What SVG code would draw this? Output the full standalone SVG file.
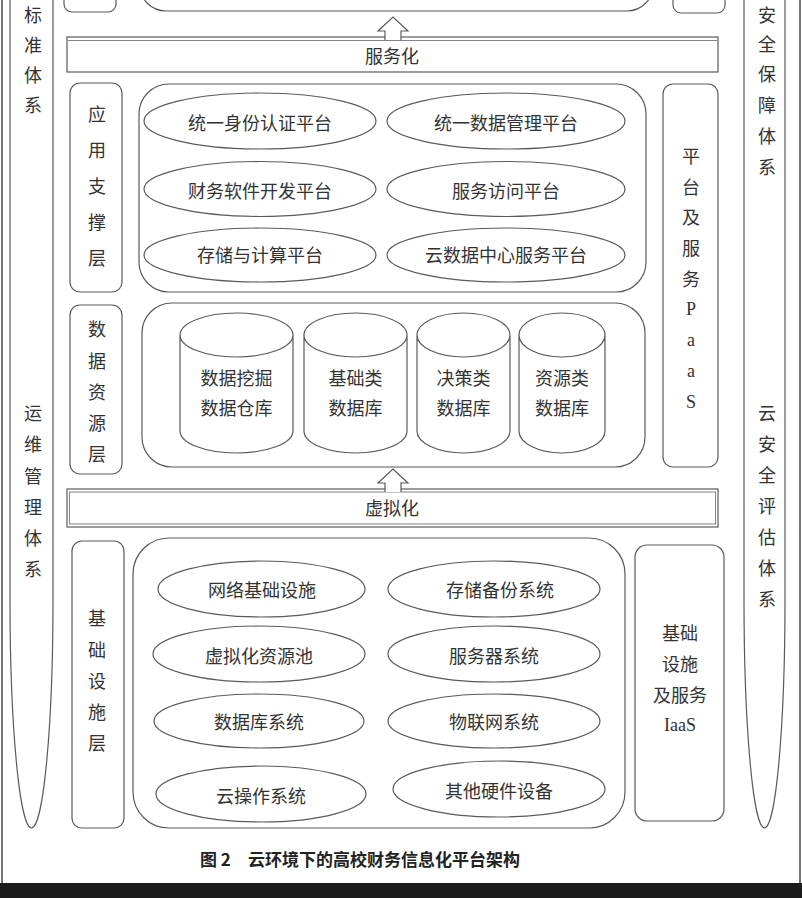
<svg xmlns="http://www.w3.org/2000/svg" width="802" height="898" viewBox="0 0 802 898">
<style>
.s{fill:none;stroke:#5a5a5a;stroke-width:1.2}
.w{fill:#fff;stroke:#5a5a5a;stroke-width:1.2}
.t{font-family:"Noto Sans CJK SC","Noto Sans CJK JP",sans-serif;font-size:18px;fill:#333;text-anchor:middle;dominant-baseline:central}
.l{font-family:"Liberation Serif","Noto Sans CJK SC",serif;font-size:18px;fill:#333;text-anchor:middle;dominant-baseline:central}
.cap{font-family:"Noto Sans CJK SC","Noto Sans CJK JP",sans-serif;font-size:17px;font-weight:bold;fill:#222;dominant-baseline:central}
</style>
<rect x="0" y="0" width="802" height="898" fill="#fff"/>
<line x1="2" y1="0" x2="2" y2="883" stroke="#444" stroke-width="1.5"/>
<line x1="800" y1="0" x2="800" y2="883" stroke="#444" stroke-width="1.5"/>
<rect x="0" y="883" width="802" height="15" fill="#1b1b1b"/>

<g id="col-left">
<path class="s" d="M10,-5 V600 A21.5,228 0 0 0 53,600 V-5"/>
<text class="t"><tspan x="33" y="14">标</tspan><tspan x="33" y="44">准</tspan><tspan x="33" y="74">体</tspan><tspan x="33" y="104">系</tspan></text>
<text class="t"><tspan x="33" y="412">运</tspan><tspan x="33" y="443">维</tspan><tspan x="33" y="475">管</tspan><tspan x="33" y="506">理</tspan><tspan x="33" y="537">体</tspan><tspan x="33" y="568">系</tspan></text>
</g>
<g id="col-right">
<path class="s" d="M744,-5 V600 A20.5,228 0 0 0 785,600 V-5"/>
<text class="t"><tspan x="767" y="14">安</tspan><tspan x="767" y="43">全</tspan><tspan x="767" y="73">保</tspan><tspan x="767" y="104">障</tspan><tspan x="767" y="135">体</tspan><tspan x="767" y="166">系</tspan></text>
<text class="t"><tspan x="767" y="412">云</tspan><tspan x="767" y="443">安</tspan><tspan x="767" y="474">全</tspan><tspan x="767" y="505">评</tspan><tspan x="767" y="536">估</tspan><tspan x="767" y="567">体</tspan><tspan x="767" y="598">系</tspan></text>
</g>

<g id="top-partial">
<rect class="s" x="64" y="-30" width="52" height="42" rx="8"/>
<rect class="s" x="140" y="-40" width="513" height="51" rx="26"/>
<rect class="s" x="673" y="-30" width="52" height="43" rx="8"/>
</g>

<g id="band-service">
<rect class="s" x="67" y="37" width="651" height="35"/>
<line x1="68" y1="40.5" x2="717" y2="40.5" stroke="#777" stroke-width="0.9"/>
<text class="t" x="392" y="55">服务化</text>
</g>

<g id="layer-app-label">
<rect class="s" x="70" y="83" width="52" height="209" rx="10"/>
<text class="t"><tspan x="97" y="113">应</tspan><tspan x="97" y="149">用</tspan><tspan x="97" y="185">支</tspan><tspan x="97" y="221">撑</tspan><tspan x="97" y="257">层</tspan></text>
</g>
<g id="layer-app">
<rect class="s" x="139" y="84" width="507" height="208" rx="30"/>
</g>
<g id="n-auth"><ellipse class="s" cx="260" cy="121" rx="116" ry="28"/><text class="t" x="260" y="122">统一身份认证平台</text></g>
<g id="n-datamgmt"><ellipse class="s" cx="506" cy="121" rx="119" ry="28"/><text class="t" x="506" y="122">统一数据管理平台</text></g>
<g id="n-dev"><ellipse class="s" cx="260" cy="189" rx="116" ry="27.5"/><text class="t" x="260" y="190">财务软件开发平台</text></g>
<g id="n-access"><ellipse class="s" cx="506" cy="189" rx="119" ry="27.5"/><text class="t" x="506" y="190">服务访问平台</text></g>
<g id="n-storage"><ellipse class="s" cx="260" cy="255" rx="116" ry="27"/><text class="t" x="260" y="254">存储与计算平台</text></g>
<g id="n-dc"><ellipse class="s" cx="506" cy="255" rx="119" ry="27"/><text class="t" x="506" y="254">云数据中心服务平台</text></g>

<g id="paas">
<rect class="s" x="663" y="84" width="55" height="383" rx="10"/>
<text class="t"><tspan x="691" y="155">平</tspan><tspan x="691" y="186">台</tspan><tspan x="691" y="216">及</tspan><tspan x="691" y="247">服</tspan><tspan x="691" y="278">务</tspan></text>
<text class="l"><tspan x="691" y="309">P</tspan><tspan x="691" y="340">a</tspan><tspan x="691" y="371">a</tspan><tspan x="691" y="402">S</tspan></text>
</g>

<g id="layer-data-label">
<rect class="s" x="70" y="305" width="52" height="169" rx="10"/>
<text class="t"><tspan x="97" y="328">数</tspan><tspan x="97" y="360">据</tspan><tspan x="97" y="391">资</tspan><tspan x="97" y="422">源</tspan><tspan x="97" y="453">层</tspan></text>
</g>
<g id="layer-data">
<rect class="s" x="142" y="303" width="503" height="164" rx="30"/>
</g>
<g id="db-mining">
<path class="s" d="M180,335 A56.5,22 0 0 1 293,335 V431 A56.5,22 0 0 1 180,431 Z M180,335 A56.5,22 0 0 0 293,335"/>
<text class="t" x="236.5" y="377">数据挖掘</text><text class="t" x="236.5" y="407">数据仓库</text>
</g>
<g id="db-basic">
<path class="s" d="M304,335 A51.5,22 0 0 1 407,335 V431 A51.5,22 0 0 1 304,431 Z M304,335 A51.5,22 0 0 0 407,335"/>
<text class="t" x="355.5" y="377">基础类</text><text class="t" x="355.5" y="407">数据库</text>
</g>
<g id="db-decision">
<path class="s" d="M417,335 A46.5,22 0 0 1 510,335 V431 A46.5,22 0 0 1 417,431 Z M417,335 A46.5,22 0 0 0 510,335"/>
<text class="t" x="463.5" y="377">决策类</text><text class="t" x="463.5" y="407">数据库</text>
</g>
<g id="db-resource">
<path class="s" d="M519,335 A43,22 0 0 1 605,335 V431 A43,22 0 0 1 519,431 Z M519,335 A43,22 0 0 0 605,335"/>
<text class="t" x="562" y="377">资源类</text><text class="t" x="562" y="407">数据库</text>
</g>

<g id="band-virtual">
<rect class="s" x="67" y="489" width="651" height="38"/>
<rect x="69.5" y="492" width="646" height="32" fill="none" stroke="#777" stroke-width="0.9"/>
<text class="t" x="392" y="507">虚拟化</text>
</g>

<g id="layer-infra-label">
<rect class="s" x="72" y="541" width="52" height="287" rx="10"/>
<text class="t"><tspan x="97" y="617">基</tspan><tspan x="97" y="649">础</tspan><tspan x="97" y="680">设</tspan><tspan x="97" y="711">施</tspan><tspan x="97" y="742">层</tspan></text>
</g>
<g id="layer-infra">
<rect class="s" x="133" y="538" width="492" height="290" rx="36"/>
</g>
<g id="n-net"><ellipse class="s" cx="261.5" cy="589" rx="103.5" ry="28"/><text class="t" x="262" y="589">网络基础设施</text></g>
<g id="n-backup"><ellipse class="s" cx="494" cy="589" rx="106" ry="28"/><text class="t" x="500" y="589">存储备份系统</text></g>
<g id="n-pool"><ellipse class="s" cx="259" cy="654" rx="106" ry="28"/><text class="t" x="259" y="655">虚拟化资源池</text></g>
<g id="n-server"><ellipse class="s" cx="494" cy="654" rx="106" ry="28"/><text class="t" x="494" y="655">服务器系统</text></g>
<g id="n-db"><ellipse class="s" cx="259" cy="721" rx="105" ry="27"/><text class="t" x="259" y="721">数据库系统</text></g>
<g id="n-iot"><ellipse class="s" cx="494" cy="721" rx="106" ry="27"/><text class="t" x="494" y="721">物联网系统</text></g>
<g id="n-os"><ellipse class="s" cx="261" cy="794" rx="105" ry="28"/><text class="t" x="261" y="795">云操作系统</text></g>
<g id="n-hw"><ellipse class="s" cx="499" cy="789" rx="106" ry="28"/><text class="t" x="499" y="790">其他硬件设备</text></g>

<g id="iaas">
<rect class="s" x="635" y="545" width="89" height="276" rx="12"/>
<text class="t" x="680" y="632">基础</text>
<text class="t" x="680" y="663">设施</text>
<text class="t" x="680" y="694">及服务</text>
<text class="l" x="680" y="725">IaaS</text>
</g>

<g id="connectors">
<path class="w" d="M385,40 V31 H378 L393,17 L408,31 H401 V40"/>
<path class="w" d="M385,492 V483 H378 L393,469 L408,483 H401 V492"/>
</g>

<text class="cap" x="200" y="858" xml:space="preserve">图 2　云环境下的高校财务信息化平台架构</text>
</svg>
